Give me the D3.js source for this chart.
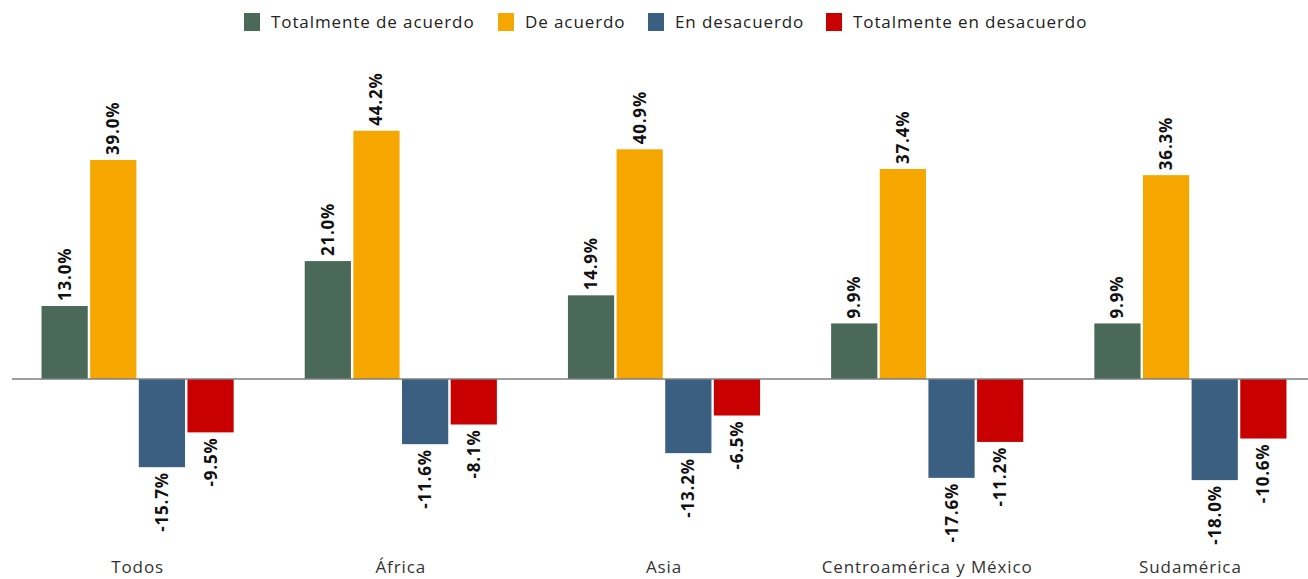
<!DOCTYPE html>
<html>
<head>
<meta charset="utf-8">
<script src="https://cdn.jsdelivr.net/npm/d3@7"></script>
<style>
  html, body { margin: 0; padding: 0; background: #fff; }
  svg { display: block; font-family: "Open Sans", "DejaVu Sans", sans-serif; }
</style>
</head>
<body>
<svg id="chart" width="1308" height="579"></svg>
<script>
// Regions and survey answers (percent; disagreement shown as negative)
const categories = ["Todos", "África", "Asia", "Centroamérica y México", "Sudamérica"];
const seriesNames = ["Totalmente de acuerdo", "De acuerdo", "En desacuerdo", "Totalmente en desacuerdo"];
const totalmenteAcuerdo = [13.0, 21.0, 14.9, 9.9, 9.9];
const deAcuerdo = [39.0, 44.2, 40.9, 37.4, 36.3];
const enDesacuerdo = [-15.7, -11.6, -13.2, -17.6, -18.0];
const totalmenteDesacuerdo = [-9.5, -8.1, -6.5, -11.2, -10.6];
const colors = ["#4b6959", "#f5a700", "#3a5f80", "#c80000"];

const seriesValues = [totalmenteAcuerdo, deAcuerdo, enDesacuerdo, totalmenteDesacuerdo];
const rows = categories.map((c, i) => ({
  category: c,
  values: seriesNames.map((s, j) => ({ series: s, idx: j, value: seriesValues[j][i] }))
}));

const svg = d3.select("#chart");

const x0 = d3.scaleBand().domain(categories).range([6, 1322]).paddingInner(0.27).paddingOuter(0.135);
const x1 = d3.scaleBand().domain(seriesNames).range([0, x0.bandwidth()]).paddingInner(0.05);
const y = d3.scaleLinear().domain([-18, 39]).range([480.1, 160]);

// Bars
const groups = svg.append("g").selectAll("g").data(rows).join("g")
  .attr("transform", d => `translate(${x0(d.category)},0)`);

groups.selectAll("rect").data(d => d.values).join("rect")
  .attr("x", d => x1(d.series))
  .attr("width", x1.bandwidth())
  .attr("y", d => y(Math.max(0, d.value)))
  .attr("height", d => Math.abs(y(d.value) - y(0)))
  .attr("fill", d => colors[d.idx]);

// Value labels, rotated
groups.selectAll("text.val").data(d => d.values).join("text")
  .attr("class", "val")
  .attr("transform", d => {
    const cx = x1(d.series) + x1.bandwidth() / 2;
    const yy = d.value >= 0 ? y(d.value) - 5 : y(d.value) + 5;
    return `translate(${cx + 6},${yy}) rotate(-90)`;
  })
  .attr("text-anchor", d => d.value >= 0 ? "start" : "end")
  .attr("font-size", 17)
  .attr("font-weight", 700)
  .attr("letter-spacing", 0.8)
  .attr("fill", "#111")
  .text(d => d.value.toFixed(1) + "%");

// Zero baseline
svg.append("line")
  .attr("x1", 12).attr("x2", 1308)
  .attr("y1", y(0)).attr("y2", y(0))
  .attr("stroke", "#7f7f7f").attr("stroke-width", 1.5);

// Category axis labels
const xAxis = d3.axisBottom(x0).tickSize(0).tickPadding(0);
const ax = svg.append("g").attr("transform", "translate(0,573)").call(xAxis);
ax.select(".domain").remove();
ax.selectAll("text")
  .attr("dy", 0)
  .attr("y", 0)
  .attr("font-size", 17)
  .attr("letter-spacing", 0.9)
  .attr("font-family", "\"Open Sans\", sans-serif")
  .attr("fill", "#333");

// Legend
const legendX = [244, 498, 648, 826];
const legend = svg.append("g").selectAll("g").data(seriesNames).join("g")
  .attr("transform", (d, i) => `translate(${legendX[i]},13)`);
legend.append("rect").attr("width", 16).attr("height", 18).attr("fill", (d, i) => colors[i]);
legend.append("text")
  .attr("x", 27).attr("y", 15)
  .attr("font-size", 17)
  .attr("letter-spacing", 0.9)
  .attr("fill", "#222")
  .text(d => d);
</script>
</body>
</html>
